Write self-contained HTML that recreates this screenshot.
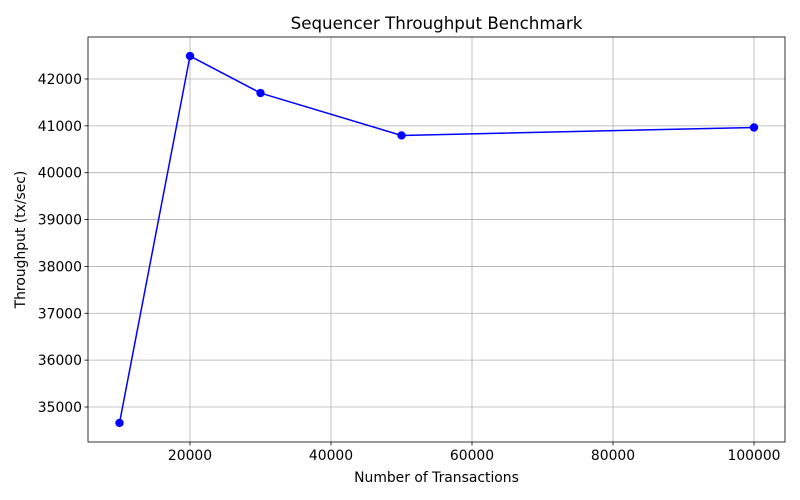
<!DOCTYPE html>
<html><head><meta charset="utf-8"><style>
html,body{margin:0;padding:0;background:#fff;}
svg{display:block;font-family:"DejaVu Sans","Liberation Sans",sans-serif;}
</style></head><body>
<svg id="chart" width="800" height="500" viewBox="0 0 800 500"></svg>
<script>
const categories = [10000, 20000, 30000, 50000, 100000];
const throughputValues = [34660, 42490, 41700, 40795, 40965];
const xTickLabels = [20000, 40000, 60000, 80000, 100000];
const yTickLabels = [35000, 36000, 37000, 38000, 39000, 40000, 41000, 42000];

const L=88,R=785,T=37,B=442;
const xMin=5532,xMax=104397,yMin=34253,yMax=42896;
const xs=v=>L+(v-xMin)/(xMax-xMin)*(R-L);
const ys=v=>B-(v-yMin)/(yMax-yMin)*(B-T);
const svg=document.getElementById('chart');
const NS='http://www.w3.org/2000/svg';
function mk(tag,attrs,parent){const e=document.createElementNS(NS,tag);for(const k in attrs)e.setAttribute(k,attrs[k]);(parent||svg).appendChild(e);return e;}

const grid=mk('g',{});


xTickLabels.forEach(v=>{
  const x=xs(v);
  const gl=mk('line',{x1:x,x2:x,y1:T,y2:B,stroke:'#b0b0b0','stroke-width':0.8},grid);
  
  
  const tk=mk('line',{x1:x,x2:x,y1:B,y2:B+3.5,stroke:'#000','stroke-width':0.8});
  
  
  const t=mk('text',{x:x,y:B+18,'text-anchor':'middle','font-size':13.9,fill:'#000'});
  t.textContent=v;
  
  
});
yTickLabels.forEach(v=>{
  const y=ys(v);
  const gl=mk('line',{x1:L,x2:R,y1:y,y2:y,stroke:'#b0b0b0','stroke-width':0.8},grid);
  
  
  const tk=mk('line',{x1:L-3.5,x2:L,y1:y,y2:y,stroke:'#000','stroke-width':0.8});
  
  
  const t=mk('text',{x:L-6,y:y+5,'text-anchor':'end','font-size':13.9,fill:'#000'});
  t.textContent=v;
  
  
});
const frame=mk('rect',{x:L,y:T,width:R-L,height:B-T,fill:'none',stroke:'#000','stroke-width':0.8});



const pts=categories.map((c,i)=>xs(c)+','+ys(throughputValues[i])).join(' ');
const line=mk('polyline',{points:pts,fill:'none',stroke:'#0000ff','stroke-width':1.5});


categories.forEach((c,i)=>{
  const p=mk('circle',{cx:xs(c),cy:ys(throughputValues[i]),r:4.2,fill:'#0000ff'});
  
  
});

const title=mk('text',{x:(L+R)/2,y:29,'text-anchor':'middle','font-size':16.7,fill:'#000'});
title.textContent='Sequencer Throughput Benchmark';


const xt=mk('text',{x:(L+R)/2,y:482,'text-anchor':'middle','font-size':13.9,fill:'#000'});
xt.textContent='Number of Transactions';


const yt=mk('text',{x:0,y:0,'text-anchor':'middle','font-size':13.9,fill:'#000',transform:'translate(25,'+((T+B)/2)+') rotate(-90)'});
yt.textContent='Throughput (tx/sec)';


</script>
</body></html>
